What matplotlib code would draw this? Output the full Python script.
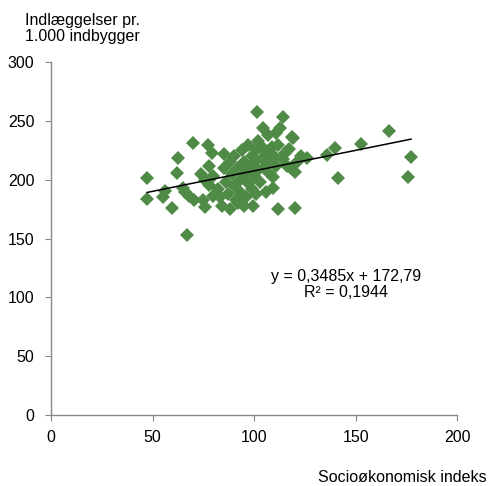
import numpy as np
import matplotlib
matplotlib.use('Agg')
import matplotlib.pyplot as plt

plt.rcParams['font.family'] = ['Liberation Sans', 'DejaVu Sans']

# socioeconomic index vs admissions per 1000 inhabitants
index_x = [47.3, 47.3, 55.2, 56.2, 59.6, 62.1, 62.6, 67.0, 70.0, 77.3,
           79.3, 101.5, 114.3, 104.4, 118.7, 115.3, 99.5, 111.8, 120.2, 166.5,
           177.3, 175.9, 152.7, 141.4, 139.9, 136.0, 126.1, 119.2, 120.2, 109.4,
           109.4, 66.0, 68.0, 65.0, 70.4, 74.9, 75.9,
           74, 76, 78, 80, 82, 83, 84, 85, 86, 87,
           88, 89, 90, 90, 91, 92, 93, 93, 94, 95,
           95, 96, 97, 97, 98, 99, 99, 100, 100, 101,
           101, 102, 102, 103, 104, 104, 105, 106, 106, 107,
           107, 108, 109, 110, 111, 111, 112, 113, 114, 116,
           117, 118, 121, 123, 85, 80, 78, 88, 92, 95]
admissions = [201.4, 183.5, 185.2, 190.3, 175.9, 205.6, 218.4, 152.9, 231.1, 229.4,
              222.6, 257.4, 253.2, 243.8, 236.2, 222.6, 177.6, 175.0, 175.9, 241.3,
              219.2, 202.2, 230.2, 201.4, 226.8, 220.9, 218.4, 235.3, 206.5, 192.9,
              202.2, 190, 186, 193, 182.6, 182.6, 176.7,
              205, 200, 196, 203, 192, 185, 178, 210, 198, 188,
              215, 205, 195, 220, 183, 210, 200, 190, 225, 215,
              205, 185, 197, 230, 210, 220, 192, 203, 215, 225,
              188, 233, 208, 198, 218, 228, 210, 222, 190, 238,
              215, 205, 228, 220, 240, 212, 230, 244, 218, 212,
              226, 210, 215, 220, 222, 186, 212, 175, 180, 178]

# trendline from Excel
slope = 0.3485
intercept = 172.79

fig = plt.figure(figsize=(4.91, 4.86), dpi=100)
ax = fig.add_axes([0.104, 0.146, 0.827, 0.726])

ax.plot(index_x, admissions, linestyle='none', marker='D', markersize=7.5,
        color='#4F8B47', markeredgewidth=0)

xs = np.array([min(index_x), max(index_x)])
ax.plot(xs, slope * xs + intercept, color='black', linewidth=1.1)

ax.set_xlim(0, 200)
ax.set_ylim(0, 300)
ax.set_xticks(np.arange(0, 201, 50))
ax.set_yticks(np.arange(0, 301, 50))

for s in ['top', 'right']:
    ax.spines[s].set_visible(False)
for s in ['left', 'bottom']:
    ax.spines[s].set_color('#888888')
    ax.spines[s].set_linewidth(1.0)
ax.tick_params(axis='both', colors='#888888', labelcolor='black',
               labelsize=11.5, length=4, direction='out')
ax.tick_params(axis='x', pad=7)
ax.tick_params(axis='y', pad=8)

fig.text(25/491, 1 - 13/486, 'Indlæggelser pr.\n1.000 indbygger', ha='left', va='top',
         fontsize=11.5, linespacing=1.1)
fig.text(487/491, 1 - 477/486, 'Socioøkonomisk indeks', ha='right', va='center',
         fontsize=11.5)
ax.text(0.727, 0.37, 'y = 0,3485x + 172,79\nR² = 0,1944', transform=ax.transAxes,
        ha='center', va='center', fontsize=11.5, linespacing=1.1)

fig.savefig('out.png', dpi=100)
